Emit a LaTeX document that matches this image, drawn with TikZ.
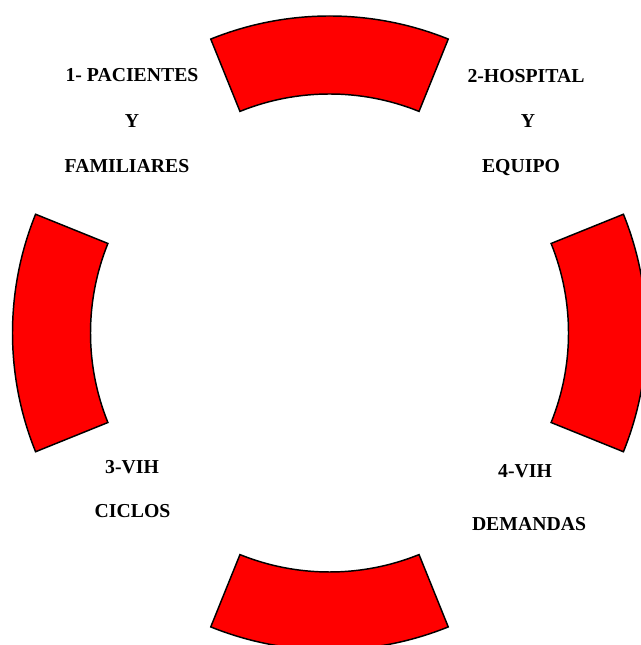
\documentclass[tikz,border=0pt]{standalone}
\usepackage{fontspec}
\setmainfont{Liberation Serif}
\usetikzlibrary{calc}
\begin{document}
\begin{tikzpicture}[x=0.75pt,y=0.75pt,
  seg/.style={fill=red,draw=black,line width=1.1pt,line join=miter},
  lbl/.style={anchor=base,inner sep=0pt,font=\fontsize{14.8}{17}\selectfont\bfseries}]
\useasboundingbox (0,0) rectangle (640,645);
\coordinate (C) at (329.5,312);
\foreach \a in {90,180,270,0}{
  \draw[seg] ($(C)+(\a-22:317)$) arc[start angle=\a-22,end angle=\a+22,radius=317]
    -- ($(C)+(\a+22:239)$) arc[start angle=\a+22,end angle=\a-22,radius=239] -- cycle;
}
\node[lbl] (p1) at (132,563) {1- PACIENTES};
\node[lbl] (p2) at (132,517) {Y};
\node[lbl] (p3) at (127,472) {FAMILIARES};
\node[lbl] (h1) at (526,562) {2-HOSPITAL};
\node[lbl] (h2) at (528,517) {Y};
\node[lbl] (h3) at (521,472) {EQUIPO};
\node[lbl] (v1) at (132,171) {3-VIH};
\node[lbl] (v2) at (132.5,127) {CICLOS};
\node[lbl] (d1) at (525,167) {4-VIH};
\node[lbl] (d2) at (529,114) {DEMANDAS};
\end{tikzpicture}
\end{document}
